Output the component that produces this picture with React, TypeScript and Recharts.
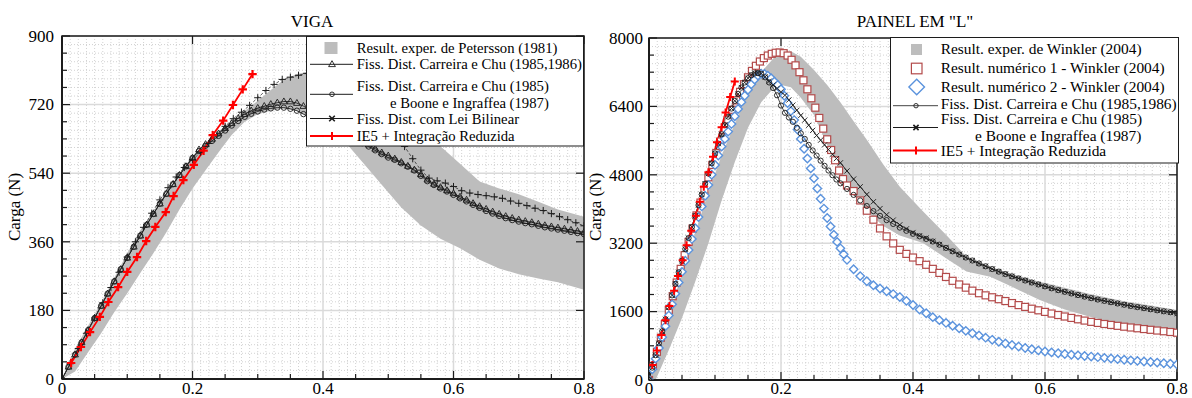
import React from "react";
import {
  ComposedChart,
  Line,
  Area,
  XAxis,
  YAxis,
  CartesianGrid,
  ReferenceArea,
  Legend,
} from "recharts";

const SERIF = '"Liberation Serif", "DejaVu Serif", serif';
const INK = "#1c1c1c";
const BAND = "#bdbdbd";
const RED = "#ff0000";
const SQUARE = "#b34a4a";
const DIAMOND = "#5b93dd";

// ---------- VIGA ----------
const vigaXTicks = [0, 0.05, 0.1, 0.15, 0.2, 0.25, 0.3, 0.35, 0.4, 0.45, 0.5, 0.55, 0.6, 0.65, 0.7, 0.75, 0.8];
const vigaXMajor = [0, 0.2, 0.4, 0.6, 0.8];
const vigaYTicks = [0, 45, 90, 135, 180, 225, 270, 315, 360, 405, 450, 495, 540, 585, 630, 675, 720, 765, 810, 855, 900];
const vigaYMajor = [0, 180, 360, 540, 720, 900];

// Petersson (1981) experimental envelope
const vigaBandX = [0, 0.02, 0.04, 0.06, 0.08, 0.1, 0.12, 0.14, 0.16, 0.18, 0.2, 0.22, 0.24, 0.26, 0.28, 0.3, 0.32, 0.34, 0.36, 0.38, 0.4, 0.43, 0.46, 0.49, 0.52, 0.55, 0.58, 0.61, 0.64, 0.67, 0.7, 0.73, 0.76, 0.8];
const vigaBandHi = [0, 80, 140, 200, 265, 330, 390, 440, 490, 540, 585, 620, 650, 677, 703, 730, 758, 785, 800, 807, 800, 780, 745, 708, 680, 650, 611, 565, 518, 500, 485, 465, 445, 426];
const vigaBandLo = [0, 20, 70, 120, 175, 225, 278, 330, 385, 445, 500, 548, 595, 640, 675, 695, 704, 710, 703, 685, 670, 630, 570, 510, 450, 403, 368, 343, 313, 290, 275, 264, 254, 234];

const vigaX = [0, 0.01, 0.02, 0.03, 0.04, 0.05, 0.06, 0.07, 0.08, 0.09, 0.1, 0.11, 0.12, 0.13, 0.14, 0.15, 0.16, 0.17, 0.18, 0.19, 0.2, 0.21, 0.22, 0.23, 0.24, 0.25, 0.26, 0.27, 0.28, 0.29, 0.3, 0.31, 0.32, 0.33, 0.34, 0.35, 0.36, 0.37, 0.38, 0.39, 0.4, 0.41, 0.42, 0.43, 0.44, 0.45, 0.46, 0.47, 0.48, 0.49, 0.5, 0.51, 0.52, 0.53, 0.54, 0.55, 0.56, 0.57, 0.58, 0.59, 0.6, 0.61, 0.62, 0.63, 0.64, 0.65, 0.66, 0.67, 0.68, 0.69, 0.7, 0.71, 0.72, 0.73, 0.74, 0.75, 0.76, 0.77, 0.78, 0.79, 0.8];
// Fiss. Dist. Carreira e Chu (1985,1986) - triangles
const vigaTri = [0, 32, 64, 96, 128, 160, 192, 224, 256, 288, 318, 347, 376, 405, 433, 460, 486, 511, 535, 558, 580, 602, 616, 630, 644, 658, 671, 684, 695, 704, 711, 716, 721, 725, 728, 728, 724, 716, 706, 696, 686, 676, 666, 656, 646, 636, 626, 615, 604, 594, 586, 578, 569, 559, 549, 537, 523, 512, 503, 495, 487, 478, 470, 461, 453, 446, 439, 433, 427, 422, 418, 414, 411, 407, 403, 400, 397, 394, 391, 388, 385];
// Carreira e Chu (1985) + Boone e Ingraffea (1987) - circles
const vigaCirc = [0, 32, 64, 96, 128, 160, 192, 224, 256, 288, 318, 347, 376, 405, 433, 460, 486, 511, 535, 558, 580, 598, 612, 625, 638, 652, 665, 677, 688, 696, 702, 707, 710, 712, 712, 709, 704, 695, 686, 677, 668, 660, 652, 644, 636, 628, 619, 610, 600, 590, 581, 575, 566, 557, 547, 533, 519, 509, 500, 492, 483, 474, 466, 457, 449, 441, 434, 428, 422, 417, 413, 409, 406, 402, 398, 395, 392, 389, 386, 383, 380];
// Lei Bilinear
const vigaBilX = [0, 0.0125, 0.025, 0.0375, 0.05, 0.0625, 0.075, 0.0875, 0.1, 0.1125, 0.125, 0.1375, 0.15, 0.1625, 0.175, 0.1875, 0.2, 0.2125, 0.225, 0.2375, 0.25, 0.2625, 0.275, 0.2875, 0.3, 0.3125, 0.325, 0.3375, 0.35, 0.3625, 0.375, 0.3875, 0.4, 0.4125, 0.425, 0.4375, 0.45, 0.4625, 0.475, 0.4875, 0.5, 0.5125, 0.525, 0.5375, 0.55, 0.5625, 0.575, 0.5875, 0.6, 0.6125, 0.625, 0.6375, 0.65, 0.6625, 0.675, 0.6875, 0.7, 0.7125, 0.725, 0.7375, 0.75, 0.7625, 0.775, 0.7875, 0.8];
const vigaBil = [0, 40, 80, 120, 160, 200, 240, 280, 320, 360, 398, 435, 470, 502, 530, 555, 575, 595, 618, 640, 663, 683, 700, 718, 738, 757, 773, 786, 792, 797, 802, 803, 800, 795, 787, 776, 762, 746, 728, 708, 686, 661, 610, 578, 548, 527, 520, 514, 505, 494, 488, 484, 481, 478, 474, 467, 461, 455, 448, 442, 434, 426, 418, 410, 402];
// IE5 + Integracao Reduzida
const vigaRedX = [0.014, 0.029, 0.043, 0.058, 0.071, 0.086, 0.1, 0.115, 0.129, 0.143, 0.159, 0.171, 0.186, 0.202, 0.217, 0.231, 0.247, 0.262, 0.277, 0.292];
const vigaRed = [42, 84, 123, 163, 202, 241, 281, 320, 362, 399, 438, 480, 522, 562, 599, 640, 678, 719, 760, 800];

// ---------- PAINEL EM "L" ----------
const painelXTicks = vigaXTicks;
const painelXMajor = vigaXMajor;
const painelYTicks = [0, 400, 800, 1200, 1600, 2000, 2400, 2800, 3200, 3600, 4000, 4400, 4800, 5200, 5600, 6000, 6400, 6800, 7200, 7600, 8000];
const painelYMajor = [0, 1600, 3200, 4800, 6400, 8000];

// Winkler (2004) experimental envelope
const painelBandX = [0, 0.01, 0.03, 0.05, 0.07, 0.09, 0.11, 0.13, 0.15, 0.17, 0.19, 0.2, 0.215, 0.23, 0.25, 0.27, 0.29, 0.31, 0.33, 0.355, 0.38, 0.415, 0.45, 0.481, 0.517, 0.55, 0.592, 0.63, 0.668, 0.718, 0.76, 0.8];
const painelBandHi = [0, 500, 1500, 2500, 3450, 4400, 5250, 6000, 6700, 7200, 7550, 7640, 7690, 7560, 7250, 6900, 6500, 6050, 5620, 5040, 4520, 3950, 3400, 2884, 2650, 2480, 2300, 2160, 2010, 1850, 1740, 1637];
const painelBandLo = [0, 0, 700, 1450, 2300, 3200, 4200, 5100, 5900, 6500, 6850, 6900, 6850, 6600, 6200, 5500, 4850, 4350, 3950, 3600, 3380, 3205, 2850, 2540, 2417, 2180, 1871, 1650, 1481, 1287, 1220, 1170];

// Result. numerico 1 - squares
const painelSqX = [0, 0.006, 0.012, 0.018, 0.024, 0.03, 0.036, 0.042, 0.048, 0.054, 0.06, 0.066, 0.072, 0.078, 0.084, 0.09, 0.096, 0.102, 0.108, 0.114, 0.12, 0.126, 0.132, 0.138, 0.144, 0.15, 0.156, 0.162, 0.168, 0.174, 0.18, 0.186, 0.192, 0.198, 0.204, 0.21, 0.216, 0.222, 0.228, 0.234, 0.24, 0.246, 0.252, 0.258, 0.264, 0.27, 0.276, 0.282, 0.288, 0.294, 0.3, 0.31, 0.32, 0.33, 0.34, 0.35, 0.36, 0.37, 0.38, 0.39, 0.4, 0.41, 0.42, 0.43, 0.44, 0.45, 0.46, 0.47, 0.48, 0.49, 0.5, 0.51, 0.52, 0.53, 0.54, 0.55, 0.56, 0.57, 0.58, 0.59, 0.6, 0.61, 0.62, 0.63, 0.64, 0.65, 0.66, 0.67, 0.68, 0.69, 0.7, 0.71, 0.72, 0.73, 0.74, 0.75, 0.76, 0.77, 0.78, 0.79, 0.8];
const painelSq = [0, 330, 660, 990, 1310, 1640, 1960, 2280, 2600, 2920, 3230, 3540, 3850, 4150, 4450, 4740, 5030, 5310, 5580, 5840, 6090, 6320, 6540, 6740, 6920, 7080, 7230, 7350, 7450, 7530, 7590, 7630, 7655, 7660, 7645, 7590, 7490, 7360, 7200, 7010, 6800, 6590, 6370, 6130, 5880, 5630, 5380, 5140, 4900, 4700, 4550, 4420, 4200, 3960, 3750, 3545, 3360, 3195, 3045, 2950, 2865, 2780, 2695, 2600, 2505, 2410, 2320, 2235, 2160, 2090, 2030, 1980, 1935, 1890, 1847, 1800, 1752, 1710, 1668, 1630, 1593, 1555, 1520, 1485, 1452, 1420, 1390, 1360, 1335, 1310, 1288, 1267, 1247, 1228, 1210, 1192, 1174, 1157, 1140, 1123, 1106];

// Result. numerico 2 - diamonds
const painelBlueX = [0, 0.005, 0.01, 0.015, 0.02, 0.025, 0.03, 0.035, 0.04, 0.045, 0.05, 0.055, 0.06, 0.065, 0.07, 0.075, 0.08, 0.085, 0.09, 0.095, 0.1, 0.105, 0.11, 0.115, 0.12, 0.125, 0.13, 0.135, 0.14, 0.145, 0.15, 0.155, 0.16, 0.165, 0.17, 0.175, 0.18, 0.185, 0.19, 0.195, 0.2, 0.205, 0.21, 0.215, 0.22, 0.225, 0.23, 0.235, 0.24, 0.245, 0.25, 0.255, 0.26, 0.265, 0.27, 0.275, 0.28, 0.285, 0.29, 0.295, 0.3, 0.31, 0.32, 0.33, 0.34, 0.35, 0.36, 0.37, 0.38, 0.39, 0.4, 0.41, 0.42, 0.43, 0.44, 0.45, 0.46, 0.47, 0.48, 0.49, 0.5, 0.51, 0.52, 0.53, 0.54, 0.55, 0.56, 0.57, 0.58, 0.59, 0.6, 0.61, 0.62, 0.63, 0.64, 0.65, 0.66, 0.67, 0.68, 0.69, 0.7, 0.71, 0.72, 0.73, 0.74, 0.75, 0.76, 0.77, 0.78, 0.79, 0.8];
const painelBlue = [0, 250, 500, 750, 1000, 1260, 1510, 1770, 2020, 2280, 2530, 2790, 3040, 3300, 3550, 3810, 4060, 4310, 4560, 4800, 5030, 5250, 5460, 5640, 5810, 5990, 6170, 6340, 6500, 6650, 6790, 6920, 7030, 7120, 7165, 7160, 7120, 7060, 6980, 6900, 6800, 6650, 6480, 6290, 6080, 5860, 5640, 5410, 5180, 4950, 4720, 4480, 4240, 4010, 3790, 3590, 3400, 3230, 3080, 2940, 2810, 2590, 2430, 2310, 2215, 2140, 2075, 2010, 1940, 1850, 1755, 1650, 1560, 1470, 1400, 1335, 1270, 1210, 1150, 1095, 1040, 990, 940, 895, 855, 818, 783, 750, 720, 692, 668, 646, 626, 608, 592, 577, 562, 548, 534, 518, 502, 488, 474, 460, 447, 434, 421, 407, 393, 379, 364];

// Fiss. Dist. (circles) and Carreira e Chu + Boone e Ingraffea (crosses)
const painelFissX = [0, 0.005, 0.01, 0.015, 0.02, 0.025, 0.03, 0.035, 0.04, 0.045, 0.05, 0.055, 0.06, 0.065, 0.07, 0.075, 0.08, 0.085, 0.09, 0.095, 0.1, 0.105, 0.11, 0.115, 0.12, 0.125, 0.13, 0.135, 0.14, 0.145, 0.15, 0.155, 0.16, 0.165, 0.17, 0.176, 0.182, 0.188, 0.194, 0.2, 0.206, 0.212, 0.218, 0.224, 0.23, 0.236, 0.242, 0.248, 0.254, 0.26, 0.266, 0.272, 0.278, 0.284, 0.29, 0.3, 0.31, 0.32, 0.33, 0.34, 0.35, 0.36, 0.37, 0.38, 0.39, 0.4, 0.41, 0.42, 0.43, 0.44, 0.45, 0.46, 0.47, 0.48, 0.49, 0.5, 0.51, 0.52, 0.53, 0.54, 0.55, 0.56, 0.57, 0.58, 0.59, 0.6, 0.61, 0.62, 0.63, 0.64, 0.65, 0.66, 0.67, 0.68, 0.69, 0.7, 0.71, 0.72, 0.73, 0.74, 0.75, 0.76, 0.77, 0.78, 0.79, 0.8];
const painelCirc = [0, 290, 580, 860, 1140, 1420, 1700, 1980, 2250, 2520, 2790, 3060, 3320, 3580, 3840, 4090, 4340, 4590, 4830, 5070, 5300, 5530, 5750, 5960, 6160, 6350, 6530, 6690, 6840, 6960, 7060, 7130, 7170, 7180, 7160, 7080, 6960, 6830, 6660, 6420, 6250, 6140, 6040, 5900, 5770, 5640, 5500, 5370, 5250, 5130, 5010, 4900, 4790, 4690, 4600, 4470, 4330, 4200, 4070, 3950, 3840, 3740, 3650, 3565, 3490, 3420, 3360, 3300, 3240, 3165, 3090, 3010, 2935, 2865, 2795, 2725, 2660, 2595, 2535, 2478, 2425, 2375, 2327, 2280, 2235, 2190, 2145, 2102, 2062, 2024, 1987, 1950, 1915, 1882, 1850, 1820, 1790, 1760, 1732, 1705, 1680, 1655, 1630, 1607, 1585, 1562];
const painelCross = [0, 290, 580, 860, 1140, 1420, 1700, 1980, 2250, 2520, 2790, 3060, 3320, 3580, 3840, 4090, 4340, 4590, 4830, 5070, 5300, 5530, 5750, 5960, 6160, 6350, 6530, 6690, 6840, 6960, 7060, 7140, 7185, 7195, 7170, 7090, 6990, 6900, 6820, 6740, 6660, 6550, 6430, 6310, 6190, 6080, 5960, 5840, 5720, 5610, 5500, 5390, 5280, 5180, 5080, 4890, 4700, 4520, 4340, 4170, 4010, 3865, 3740, 3630, 3535, 3450, 3375, 3320, 3245, 3170, 3093, 3013, 2938, 2867, 2797, 2727, 2662, 2597, 2537, 2480, 2427, 2377, 2329, 2282, 2237, 2192, 2147, 2104, 2064, 2026, 1989, 1952, 1917, 1884, 1852, 1821, 1791, 1761, 1733, 1706, 1680, 1654, 1628, 1604, 1580, 1555];
// IE5 + Integracao Reduzida
const painelRedX = [0.005, 0.012, 0.019, 0.025, 0.031, 0.038, 0.044, 0.051, 0.057, 0.064, 0.071, 0.077, 0.083, 0.09, 0.097, 0.103, 0.11, 0.116, 0.123, 0.13];
const painelRed = [350, 690, 1050, 1400, 1730, 2090, 2430, 2800, 3150, 3490, 3840, 4170, 4520, 4860, 5220, 5560, 5910, 6260, 6620, 6980];

const zip = (xs: number[], ys: number[]) => xs.map((x, i) => ({ x, y: ys[i] }));
const bandRows = (xs: number[], lo: number[], hi: number[]) => xs.map((x, i) => ({ x, band: [lo[i], hi[i]] }));

// grid helper (grid only, not data)
const steps = (end: number, step: number, skip: number[]) => {
  const out: number[] = [];
  for (let i = 0; i * step <= end + 1e-9; i++) {
    const v = +(i * step).toFixed(5);
    if (!skip.some((s) => Math.abs(s - v) < 1e-9)) out.push(v);
  }
  return out;
};

// ---------- markers ----------
const triM = (cx: number, cy: number) => (
  <path d={`M${cx} ${cy - 3.6}L${cx + 3.4} ${cy + 2.3}L${cx - 3.4} ${cy + 2.3}Z`} fill="none" stroke={INK} strokeWidth={0.9} />
);
const circM = (cx: number, cy: number, r = 2.7) => (
  <circle cx={cx} cy={cy} r={r} fill="none" stroke={INK} strokeWidth={0.9} />
);
const plusM = (cx: number, cy: number, s = 3.6, c = INK, w = 1) => (
  <path d={`M${cx - s} ${cy}H${cx + s}M${cx} ${cy - s}V${cy + s}`} stroke={c} strokeWidth={w} fill="none" />
);
const crossM = (cx: number, cy: number, s = 2.8, w = 1) => (
  <path d={`M${cx - s} ${cy - s}L${cx + s} ${cy + s}M${cx - s} ${cy + s}L${cx + s} ${cy - s}`} stroke={INK} strokeWidth={w} fill="none" />
);
const squareM = (cx: number, cy: number, s = 3.5) => (
  <rect x={cx - s} y={cy - s} width={2 * s} height={2 * s} fill="#fff" stroke={SQUARE} strokeWidth={1.2} />
);
const diamondM = (cx: number, cy: number, s = 4.2) => (
  <path d={`M${cx} ${cy - s}L${cx + s} ${cy}L${cx} ${cy + s}L${cx - s} ${cy}Z`} fill="#fff" stroke={DIAMOND} strokeWidth={1.4} />
);

const dot = (draw: (cx: number, cy: number) => React.ReactNode) => (p: any) => {
  const { cx, cy, index } = p;
  if (cx == null || cy == null || Number.isNaN(cx) || Number.isNaN(cy)) return <g key={`m${index}`} />;
  return <g key={`m${index}`}>{draw(cx, cy)}</g>;
};

// ---------- axis ticks drawn inward ----------
const fmt = (v: number) => String(v);

const xTick = (top: number, majors: number[], labelDy: number) => (p: any) => {
  const { x, y, payload } = p;
  const v = payload.value;
  const major = majors.includes(v);
  return (
    <g>
      <line x1={x} x2={x} y1={y} y2={y - (major ? 8 : 5)} stroke={INK} strokeWidth={1.2} />
      {major && <line x1={x} x2={x} y1={top} y2={top + 8} stroke={INK} strokeWidth={1.2} />}
      {major && (
        <text x={x} y={y + labelDy} textAnchor="middle" fontFamily={SERIF} fontSize={17} fill="#000">
          {fmt(v)}
        </text>
      )}
    </g>
  );
};

const yTick = (right: number, majors: number[], gap: number) => (p: any) => {
  const { x, y, payload } = p;
  const v = payload.value;
  const major = majors.includes(v);
  return (
    <g>
      <line x1={x} x2={x + (major ? 8 : 5)} y1={y} y2={y} stroke={INK} strokeWidth={1.2} />
      {major && <line x1={right} x2={right - 8} y1={y} y2={y} stroke={INK} strokeWidth={1.2} />}
      {major && (
        <text x={x - gap} y={y} dy="0.34em" textAnchor="end" fontFamily={SERIF} fontSize={17} fill="#000">
          {fmt(v)}
        </text>
      )}
    </g>
  );
};

// ---------- legends ----------
const lt = { fontFamily: SERIF, fill: "#000", whiteSpace: "pre" as const };

const VigaLegend = () => (
  <svg width={278} height={111} style={{ display: "block" }}>
    <rect x={0.5} y={0.5} width={277} height={109.5} fill="#fff" stroke={INK} />
    <g fontSize={14.7} fontFamily={SERIF} style={lt}>
      <rect x={18.5} y={6} width={13} height={12} fill={BAND} />
      <text x={50.7} y={16.8}>Result. exper. de Petersson (1981)</text>

      <line x1={4} x2={47} y1={28.3} y2={28.3} stroke={INK} />
      {triM(26, 28.3)}
      <text x={50.7} y={33.4}>Fiss. Dist. Carreira e Chu (1985,1986)</text>

      <line x1={4} x2={47} y1={58.3} y2={58.3} stroke={INK} />
      {circM(26, 58.3, 2.3)}
      <text x={50.7} y={55}>Fiss. Dist. Carreira e Chu (1985)</text>
      <text x={84} y={71.7}>e Boone e Ingraffea (1987)</text>

      <line x1={4} x2={47} y1={82.5} y2={82.5} stroke={INK} />
      {crossM(26, 82.5, 2.8, 1.6)}
      <text x={50.7} y={87.5}>Fiss. Dist. com Lei Bilinear</text>

      <line x1={4} x2={47} y1={100} y2={100} stroke={RED} strokeWidth={2} />
      <line x1={26} x2={26} y1={96} y2={104} stroke={RED} strokeWidth={2} />
      <text x={50.7} y={105}>IE5  + Integração Reduzida</text>
    </g>
  </svg>
);

const PainelLegend = () => (
  <svg width={289} height={127} style={{ display: "block" }}>
    <rect x={0.5} y={0.5} width={288} height={125.5} fill="#fff" stroke={INK} />
    <g fontSize={15.4} fontFamily={SERIF} style={lt}>
      <rect x={21} y={7} width={11} height={11} fill={BAND} />
      <text x={50.7} y={17.2}>Result. exper. de Winkler (2004)</text>

      {squareM(26.7, 31.5, 5.3)}
      <text x={50.7} y={36.2}>Result. numérico 1 - Winkler (2004)</text>

      {diamondM(26.7, 50, 7.8)}
      <text x={50.7} y={54.6}>Result. numérico 2 - Winkler (2004)</text>

      <line x1={3} x2={48} y1={68.7} y2={68.7} stroke="#444" />
      {circM(26, 68.7, 2.2)}
      <text x={50.7} y={71.9}>Fiss. Dist. Carreira e Chu (1985,1986)</text>

      <line x1={3} x2={48} y1={90.5} y2={90.5} stroke={INK} />
      {crossM(26, 90.5, 2.6, 1.6)}
      <text x={50.7} y={86.9}>Fiss. Dist. Carreira e Chu (1985)</text>
      <text x={85} y={103.9}>e Boone e Ingraffea (1987)</text>

      <line x1={3} x2={47} y1={113.4} y2={113.4} stroke={RED} strokeWidth={2} />
      <line x1={26} x2={26} y1={109.5} y2={117.5} stroke={RED} strokeWidth={2} />
      <text x={50.7} y={118.6}>IE5  + Integração Reduzida</text>
    </g>
  </svg>
);

// ---------- charts ----------
const W = 596;
const H = 398;
const MINOR = "#d2d2d2";
const MAJOR = "#dadada";

function VigaChart() {
  const top = 36;
  const plotRight = 584;
  return (
    <ComposedChart width={W} height={H} data={bandRows(vigaBandX, vigaBandLo, vigaBandHi)} margin={{ top, right: W - plotRight, bottom: 0, left: 0 }}>
      <CartesianGrid verticalValues={steps(0.8, 0.0125, vigaXMajor)} horizontalValues={steps(900, 22.5, vigaYMajor)} stroke={MINOR} strokeDasharray="1 2" />
      <CartesianGrid verticalValues={vigaXMajor} horizontalValues={vigaYMajor} stroke={MAJOR} strokeWidth={1.5} />
      <XAxis type="number" dataKey="x" domain={[0, 0.8]} ticks={vigaXTicks} interval={0} allowDataOverflow height={19} tickSize={0} tickMargin={0} tickLine={false} axisLine={{ stroke: INK, strokeWidth: 2 }} tick={xTick(top, vigaXMajor, 15)} />
      <YAxis type="number" domain={[0, 900]} ticks={vigaYTicks} interval={0} allowDataOverflow width={62} tickSize={0} tickMargin={0} tickLine={false} axisLine={{ stroke: INK, strokeWidth: 2 }} tick={yTick(plotRight, vigaYMajor, 8)} />
      <Area type="linear" dataKey="band" stroke="none" fill={BAND} fillOpacity={1} isAnimationActive={false} activeDot={false} />
      <Line data={zip(vigaX, vigaTri)} dataKey="y" type="linear" stroke={INK} strokeWidth={0.9} dot={dot(triM)} activeDot={false} isAnimationActive={false} />
      <Line data={zip(vigaX, vigaCirc)} dataKey="y" type="linear" stroke={INK} strokeWidth={0.9} dot={dot((cx, cy) => circM(cx, cy))} activeDot={false} isAnimationActive={false} />
      <Line data={zip(vigaBilX, vigaBil)} dataKey="y" type="linear" stroke="#333" strokeWidth={0.8} strokeDasharray="3 2" dot={dot((cx, cy) => plusM(cx, cy, 3.6, INK, 1))} activeDot={false} isAnimationActive={false} />
      <Line data={zip(vigaRedX, vigaRed)} dataKey="y" type="linear" stroke={RED} strokeWidth={1.8} dot={dot((cx, cy) => plusM(cx, cy, 4.2, RED, 2.2))} activeDot={false} isAnimationActive={false} />
      <ReferenceArea x1={0} x2={0.8} y1={0} y2={900} fill="none" stroke={INK} strokeWidth={1.5} ifOverflow="visible" />
      <Legend layout="horizontal" verticalAlign="middle" align="center" width={278} height={111} wrapperStyle={{ left: 306, top: 36, width: 278, height: 111 }} content={() => <VigaLegend />} />
    </ComposedChart>
  );
}

function PainelChart() {
  const top = 38;
  const plotRight = 581;
  return (
    <ComposedChart width={W} height={H} data={bandRows(painelBandX, painelBandLo, painelBandHi)} margin={{ top, right: W - plotRight, bottom: 0, left: 0 }}>
      <CartesianGrid verticalValues={steps(0.8, 0.0125, painelXMajor)} horizontalValues={steps(8000, 200, painelYMajor)} stroke={MINOR} strokeDasharray="1 2" />
      <CartesianGrid verticalValues={painelXMajor} horizontalValues={painelYMajor} stroke={MAJOR} strokeWidth={1.5} />
      <XAxis type="number" dataKey="x" domain={[0, 0.8]} ticks={painelXTicks} interval={0} allowDataOverflow height={18} tickSize={0} tickMargin={0} tickLine={false} axisLine={{ stroke: INK, strokeWidth: 2 }} tick={xTick(top, painelXMajor, 14)} />
      <YAxis type="number" domain={[0, 8000]} ticks={painelYTicks} interval={0} allowDataOverflow width={53} tickSize={0} tickMargin={0} tickLine={false} axisLine={{ stroke: INK, strokeWidth: 2 }} tick={yTick(plotRight, painelYMajor, 6)} />
      <Area type="linear" dataKey="band" stroke="none" fill={BAND} fillOpacity={1} isAnimationActive={false} activeDot={false} />
      <Line data={zip(painelSqX, painelSq)} dataKey="y" type="linear" stroke="none" dot={dot((cx, cy) => squareM(cx, cy))} activeDot={false} isAnimationActive={false} />
      <Line data={zip(painelBlueX, painelBlue)} dataKey="y" type="linear" stroke="none" dot={dot((cx, cy) => diamondM(cx, cy))} activeDot={false} isAnimationActive={false} />
      <Line data={zip(painelFissX, painelCirc)} dataKey="y" type="linear" stroke="#333" strokeWidth={0.9} dot={dot((cx, cy) => circM(cx, cy, 2.6))} activeDot={false} isAnimationActive={false} />
      <Line data={zip(painelFissX, painelCross)} dataKey="y" type="linear" stroke={INK} strokeWidth={0.9} dot={dot((cx, cy) => crossM(cx, cy, 2.6, 0.9))} activeDot={false} isAnimationActive={false} />
      <Line data={zip(painelRedX, painelRed)} dataKey="y" type="linear" stroke={RED} strokeWidth={1.8} dot={dot((cx, cy) => plusM(cx, cy, 4, RED, 2))} activeDot={false} isAnimationActive={false} />
      <ReferenceArea x1={0} x2={0.8} y1={0} y2={8000} fill="none" stroke={INK} strokeWidth={1.5} ifOverflow="visible" />
      <Legend layout="horizontal" verticalAlign="middle" align="center" width={289} height={127} wrapperStyle={{ left: 294, top: 37, width: 289, height: 127 }} content={() => <PainelLegend />} />
    </ComposedChart>
  );
}

const title = (text: string, cx: number) => (
  <div style={{ position: "absolute", left: cx - 150, top: 13, width: 300, textAlign: "center", fontSize: 17, lineHeight: "17px", fontFamily: SERIF, color: "#000", whiteSpace: "pre" }}>
    {text}
  </div>
);

const yLabel = (cx: number, cy: number) => (
  <div style={{ position: "absolute", left: cx - 50, top: cy - 10, width: 100, height: 20, lineHeight: "20px", textAlign: "center", fontSize: 17, fontFamily: SERIF, color: "#000", transform: "rotate(-90deg)" }}>
    Carga (N)
  </div>
);

export default function App() {
  return (
    <div style={{ position: "absolute", left: 0, top: 0, width: 1192, height: 398, background: "#fff", overflow: "hidden", fontFamily: SERIF }}>
      <div style={{ position: "absolute", left: 0, top: 0 }}>
        <VigaChart />
      </div>
      <div style={{ position: "absolute", left: 596, top: 0 }}>
        <PainelChart />
      </div>
      {title("VIGA", 312)}
      {title('PAINEL EM "L"', 915)}
      {yLabel(15, 207)}
      {yLabel(595.5, 207)}
    </div>
  );
}
